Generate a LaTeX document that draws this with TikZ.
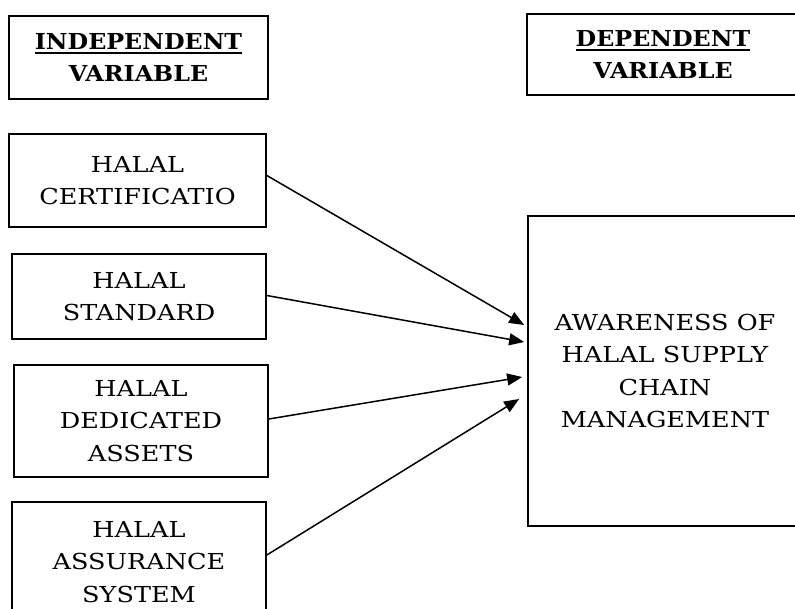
\documentclass[tikz,border=0pt]{standalone}
\usepackage{fontspec}
\setmainfont{DejaVu Serif}[FakeStretch=1.16]
\newfontfamily\headfont{DejaVu Serif}[FakeStretch=1.08]
\usetikzlibrary{arrows.meta,calc}
\newcommand{\myul}[1]{\leavevmode\vtop{\hbox{#1}\kern2.5pt\hrule height 1.8pt}}
\tikzset{
  box/.style={draw, line width=1.7pt, rectangle, inner sep=0pt, align=center,
    font=\fontsize{22}{32.5}\selectfont},
  headbox/.style={box, font=\headfont\fontsize{22}{32}\selectfont\bfseries},
  conn/.style={line width=1.5pt, -{Triangle[length=15pt,width=12pt]}}
}
\begin{document}
\begin{tikzpicture}[x=1pt,y=-1pt]
\useasboundingbox (0,0) rectangle (795,608);
\node[headbox, minimum width=259pt, minimum height=83pt] (indep) at (138.5,57.5) {\myul{INDEPENDENT}\\VARIABLE};
\node[headbox, minimum width=272pt, minimum height=81pt] (dep) at (663,54.5) {\myul{DEPENDENT}\\VARIABLE};
\node[box, minimum width=257pt, minimum height=93pt] (cert) at (137.5,180.5) {HALAL\\CERTIFICATIO};
\node[box, minimum width=254pt, minimum height=85pt] (std) at (139,296.5) {HALAL\\STANDARD};
\node[box, minimum width=254pt, minimum height=112pt] (ded) at (141,421) {HALAL\\DEDICATED\\ASSETS};
\node[box, minimum width=254pt, minimum height=120pt] (ass) at (139,562) {HALAL\\ASSURANCE\\SYSTEM};
\node[box, minimum width=274pt, minimum height=310pt] (awr) at (665,371) {AWARENESS OF\\HALAL SUPPLY\\CHAIN\\MANAGEMENT};
\coordinate (t1) at ($(awr.west)+(-3,-46)$);
\coordinate (t2) at ($(awr.west)+(-3,-29)$);
\coordinate (t3) at ($(awr.west)+(-5,6)$);
\coordinate (t4) at ($(awr.west)+(-8,28)$);
\draw[conn] ($(cert.east)+(0,-5)$) -- (t1);
\draw[conn] ($(std.east)+(0,-1)$) -- (t2);
\draw[conn] ($(ded.east)+(0,-2)$) -- (t3);
\draw[conn] ($(ass.east)+(0,-7)$) -- (t4);
\end{tikzpicture}
\end{document}
